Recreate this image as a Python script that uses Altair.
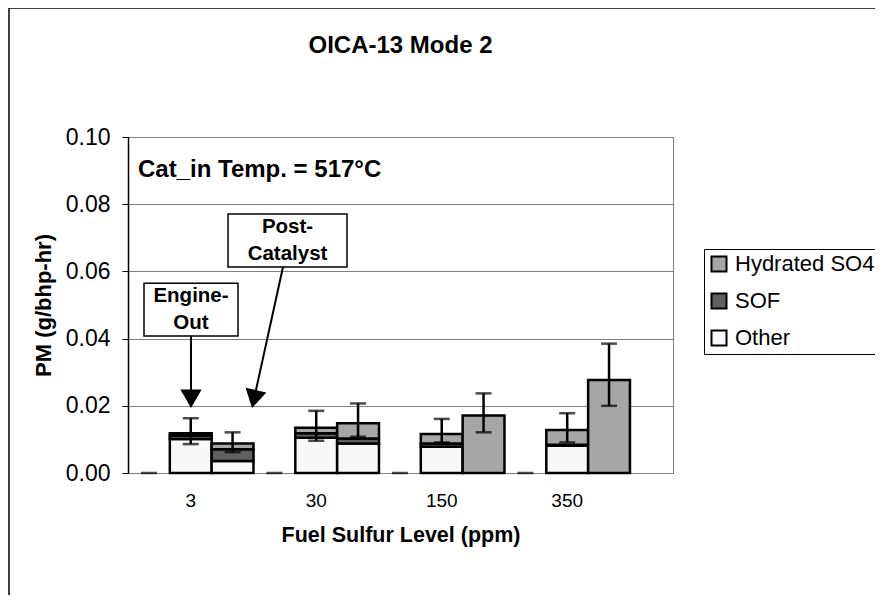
import altair as alt
import pandas as pd

FONT = "Liberation Sans"

sulfur = ["3", "30", "150", "350"]
positions = ["Blank", "Engine-Out", "Post-Catalyst"]
components = ["Hydrated SO4", "SOF", "Other"]
comp_colors = ["#A6A6A6", "#606060", "#F8F8F8"]

# Engine-out stack (g/bhp-hr)
eo_other = [0.0101, 0.0105, 0.0078, 0.0081]
eo_sof = [0.0010, 0.0013, 0.0010, 0.0003]
eo_hyd = [0.0007, 0.0017, 0.0028, 0.0044]
# Post-catalyst stack
pc_other = [0.0036, 0.0088, 0.0, 0.0]
pc_sof = [0.0035, 0.0015, 0.0, 0.0]
pc_hyd = [0.0017, 0.0045, 0.0171, 0.0277]

# error bar limits
eo_low = [0.0086, 0.0096, 0.0091, 0.0091]
eo_high = [0.0163, 0.0185, 0.0161, 0.0178]
pc_low = [0.0062, 0.0108, 0.0121, 0.0200]
pc_high = [0.0121, 0.0207, 0.0237, 0.0385]
blank_err = [0.0, 0.0, 0.0, 0.0]

rank = {"Other": 0, "SOF": 1, "Hydrated SO4": 2}
rows = []
for i, s in enumerate(sulfur):
    for pos, oth, sof, hyd in [("Engine-Out", eo_other, eo_sof, eo_hyd),
                               ("Post-Catalyst", pc_other, pc_sof, pc_hyd)]:
        for comp, arr in [("Other", oth), ("SOF", sof), ("Hydrated SO4", hyd)]:
            if arr[i] > 0:
                rows.append({"sulfur": s, "position": pos, "component": comp,
                             "value": arr[i], "rank": rank[comp]})
bars_df = pd.DataFrame(rows)

err_rows = []
cap_rows = []
for i, s in enumerate(sulfur):
    for pos, lo, hi in [("Engine-Out", eo_low, eo_high), ("Post-Catalyst", pc_low, pc_high)]:
        err_rows.append({"sulfur": s, "position": pos, "low": lo[i], "high": hi[i]})
        cap_rows.append({"sulfur": s, "position": pos, "v": lo[i]})
        cap_rows.append({"sulfur": s, "position": pos, "v": hi[i]})
    cap_rows.append({"sulfur": s, "position": "Blank", "v": blank_err[i]})
err_df = pd.DataFrame(err_rows)
cap_df = pd.DataFrame(cap_rows)

# annotations (x in category units, y in g/bhp-hr)
box_df = pd.DataFrame({"x": [0.1275, 0.797], "x2": [0.8765, 1.745],
                       "y": [0.0408, 0.0613], "y2": [0.0565, 0.0771]})
label_df = pd.DataFrame({"x": [0.502, 1.271], "y": [0.0527, 0.0732],
                         "t": ["Engine-\nOut", "Post-\nCatalyst"]})
arrow_df = pd.DataFrame({"x": [0.502, 1.235], "x2": [0.502, 1.004],
                         "y": [0.0408, 0.0613], "y2": [0.0221, 0.0220]})
head_df = pd.DataFrame({"x": [0.502, 1.004], "y": [0.0221, 0.0220], "a": [0, 12.4]})
cat_df = pd.DataFrame({"x": [0.08], "y": [0.0902], "t": ["Cat_in Temp. = 517°C"]})

W, H = 545, 336
xscale = alt.Scale(domain=sulfur, paddingInner=0, paddingOuter=0.1715, align=0)
xoff = alt.Scale(domain=positions, paddingInner=0, paddingOuter=0)
yscale = alt.Scale(domain=[0, 0.1], nice=False)
uscale = alt.Scale(domain=[0, 4.3426], nice=False, zero=False)

x_axis = alt.Axis(title="Fuel Sulfur Level (ppm)", labelAngle=0, ticks=False,
                  domain=False, labelFontSize=19, labelPadding=18,
                  titleFontSize=21.5, titleFontWeight="bold", titlePadding=14,
                  labelColor="black", titleColor="black")
x_enc = alt.X("sulfur:N", scale=xscale, sort=sulfur, axis=x_axis)
xo = alt.XOffset("position:N", scale=xoff, sort=positions)

y_axis = alt.Axis(values=[0, 0.02, 0.04, 0.06, 0.08, 0.1], format=".2f",
                  title="PM (g/bhp-hr)", labelFontSize=23, labelPadding=12,
                  tickSize=6, tickColor="black", domainColor="black", domainWidth=1.5,
                  gridColor="#808080", gridWidth=1, titleFontSize=22,
                  titleFontWeight="bold", titlePadding=10, labelColor="black",
                  titleColor="black")

bars = alt.Chart(bars_df).mark_bar(stroke="black", strokeWidth=2.5).encode(
    x=x_enc, xOffset=xo,
    y=alt.Y("value:Q", stack="zero", scale=yscale, axis=y_axis),
    color=alt.Color("component:N",
                    scale=alt.Scale(domain=components, range=comp_colors),
                    legend=alt.Legend(title=None, orient="none", legendX=576, legendY=112,
                                      symbolType="square", symbolSize=225,
                                      symbolStrokeColor="black", symbolStrokeWidth=2,
                                      labelFontSize=22, labelFont=FONT, labelColor="black",
                                      strokeColor="black", fillColor="white", padding=4,
                                      rowPadding=13, labelOffset=5)),
    order=alt.Order("rank:Q"),
)

rules = alt.Chart(err_df).mark_rule(color="black", strokeWidth=2.5).encode(
    x=x_enc, xOffset=xo,
    y=alt.Y("low:Q", scale=yscale, axis=y_axis), y2="high:Q")

caps = alt.Chart(cap_df).mark_tick(color="black", thickness=2.5, size=16).encode(
    x=x_enc, xOffset=xo, y=alt.Y("v:Q", scale=yscale, axis=y_axis))

main = alt.layer(bars, rules, caps)

ux = lambda f: alt.X(f, type="quantitative", scale=uscale, axis=None)
uy = lambda f: alt.Y(f, type="quantitative", scale=yscale)

boxes = alt.Chart(box_df).mark_rect(fill="white", stroke="black", strokeWidth=1.5).encode(
    x=ux("x"), x2="x2", y=uy("y"), y2="y2")
labels = alt.Chart(label_df).mark_text(font=FONT, fontSize=20.5, fontWeight="bold",
                                        lineBreak="\n", lineHeight=27, baseline="middle",
                                        align="center", color="black").encode(
    x=ux("x"), y=uy("y"), text="t:N")
arrows = alt.Chart(arrow_df).mark_rule(color="black", strokeWidth=2).encode(
    x=ux("x"), x2="x2", y=uy("y"), y2="y2")
heads = alt.Chart(head_df).mark_point(shape="triangle-down", filled=True, color="black",
                                      size=450, opacity=1).encode(
    x=ux("x"), y=uy("y"), angle=alt.Angle("a:Q", scale=None))
cattext = alt.Chart(cat_df).mark_text(font=FONT, fontSize=24, fontWeight="bold",
                                      align="left", baseline="middle", color="black").encode(
    x=ux("x"), y=uy("y"), text="t:N")

annot = alt.layer(boxes, arrows, heads, labels, cattext)

title_df = pd.DataFrame({"t": ["OICA-13 Mode 2"]})
frame_top = alt.Chart(title_df).mark_rule(color="black", strokeWidth=1.5).encode(
    x=alt.value(-119), x2=alt.value(760), y=alt.value(-129))
frame_left = alt.Chart(title_df).mark_rule(color="black", strokeWidth=1.5).encode(
    x=alt.value(-119), y=alt.value(-129), y2=alt.value(470))
title = alt.Chart(title_df).mark_text(font=FONT, fontSize=24, fontWeight="bold",
                                      align="center", baseline="middle", color="black").encode(
    x=alt.value(W / 2), y=alt.value(-91), text="t:N")

chart = alt.layer(main, annot, frame_top, frame_left, title).resolve_scale(
    x="independent").properties(
    width=W, height=H,
    autosize=alt.AutoSizeParams(type="none"),
    padding={"left": 120, "top": 129, "right": 202, "bottom": 122},
    background="white",
).configure_view(stroke="#808080", strokeWidth=1).configure_axis(
    labelFont=FONT, titleFont=FONT, grid=True
).configure_axisX(grid=False)

chart.save("out.html", embed_options={"renderer": "svg", "actions": False})
